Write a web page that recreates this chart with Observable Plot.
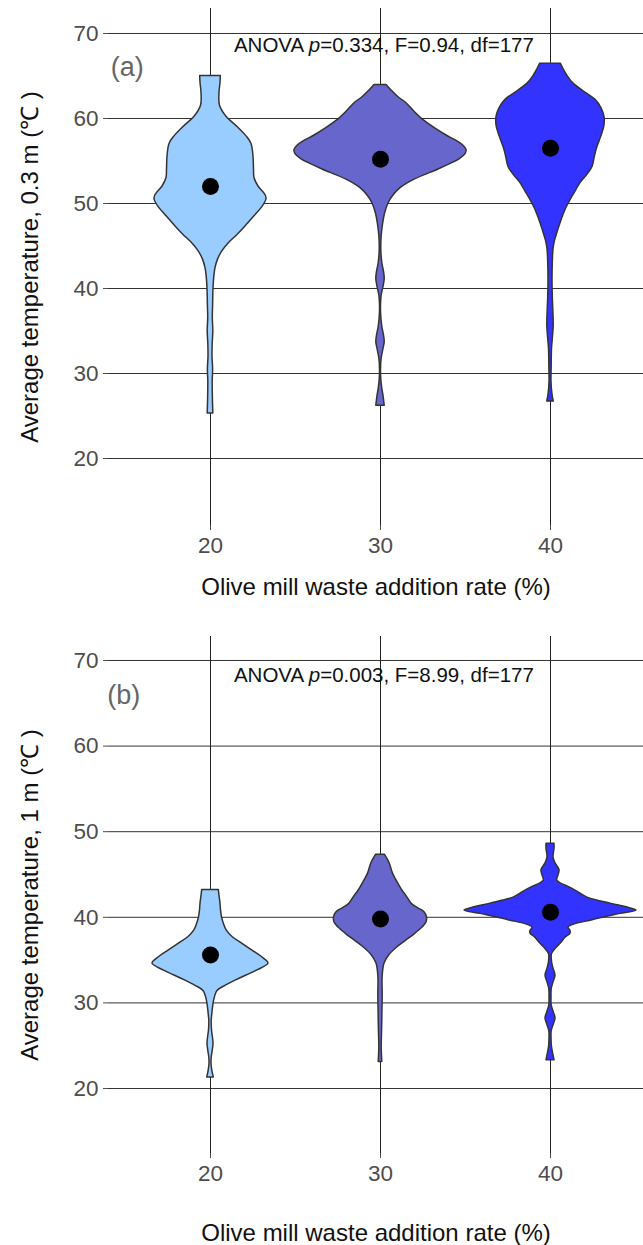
<!DOCTYPE html>
<html>
<head>
<meta charset="utf-8">
<script src="https://cdn.jsdelivr.net/npm/d3@7"></script>
<script src="https://cdn.jsdelivr.net/npm/@observablehq/plot@0.6"></script>
<style>
  html, body { margin: 0; padding: 0; background: #fff; }
  #chart div, #chart svg { display: block; }
</style>
</head>
<body>
<div id="chart"></div>
<script>
// ---------- data ----------
const rates = [20, 30, 40];
const fills = ["#99ccff", "#6666cc", "#3333ff"];
const yTicks = [20, 30, 40, 50, 60, 70];
const xTicks = [20, 30, 40];

const yTitleA = "Average temperature, 0.3 m (\u2103 )";
const yTitleB = "Average temperature, 1 m (\u2103 )";
const xTitle = "Olive mill waste addition rate (%)";
const anovaA = "ANOVA p=0.334, F=0.94, df=177";
const anovaB = "ANOVA p=0.003, F=8.99, df=177";
const labelA = "(a)";
const labelB = "(b)";

const meansA = [52.0, 55.2, 56.5];
const meansB = [35.6, 39.8, 40.6];

// violin profiles: [temperature, relative density (half width)]
const violinA20 = [[65.0,10.3],[64.2,10],[63.0,9],[61.5,9.5],[60.2,16],[59.0,27],[57.9,36],[57.0,41],[55.5,43],[54.0,43.5],[53.0,44],[52.0,48],[51.0,55],[50.5,56],[49.6,52],[48.5,44],[47.3,35],[46.3,27],[45.4,19],[44.4,12],[43.4,7.5],[42.4,5],[41.4,3.8],[40.0,3],[38.0,2.6],[36.5,2.3],[35.0,2.8],[33.5,2.2],[32.0,2],[30.5,2.6],[29.0,2.2],[27.0,2.4],[25.3,2.8]];
const violinA30 = [[63.95,6],[63.3,11],[62.5,18],[61.8,26],[60.8,34],[59.8,43],[58.8,55],[58.0,66],[57.3,77],[56.8,83],[56.3,86],[55.8,85],[55.2,79],[54.6,69],[54.0,58],[52.8,34],[51.8,20],[50.8,12],[50.0,8],[48.8,4.5],[47.5,2.5],[46.2,1.2],[44.5,0.8],[43.0,1.8],[41.9,3.6],[41.1,4.2],[40.2,3],[39.3,1.3],[38.4,0.6],[37.0,0.6],[35.5,1.8],[34.4,3.6],[33.7,4.2],[32.9,3],[31.8,1.2],[30.5,0.5],[29.3,0.8],[28.2,1.8],[27.2,3.2],[26.2,4.2]];
const violinA40 = [[66.45,10.3],[65.8,13],[65.0,17],[64.1,23],[63.2,33],[62.2,45],[61.2,51],[60.2,54],[59.2,54],[58.3,52],[57.3,49],[56.3,46],[55.3,44],[54.3,42],[53.4,37],[52.4,30],[51.4,25],[50.4,20],[49.5,16],[48.5,12.5],[47.5,9.5],[46.6,7],[45.6,4.5],[44.6,3],[43.0,2.3],[41.0,2],[39.0,2.3],[37.5,2.8],[35.6,3.2],[34.2,2.4],[32.9,1.5],[31.0,1.2],[29.0,1],[27.5,2],[26.7,3.3]];

const violinB20 = [[43.2,8.3],[42.5,9],[41.6,10],[40.8,10.5],[40.0,11.5],[39.2,13.5],[38.5,16],[37.7,22],[36.9,32],[36.1,42],[35.3,52],[34.6,58],[33.8,47],[33.2,36],[32.6,25],[32.0,15],[31.4,7],[30.7,4.5],[29.9,3],[28.9,2],[27.9,1.2],[26.8,1.5],[25.9,2.5],[25.2,3],[24.4,2.2],[23.6,1.2],[22.9,1],[22.1,1.8],[21.3,3.3]];
const violinB30 = [[47.3,4.5],[46.8,7],[46.2,9.5],[45.1,12.5],[44.1,17],[43.1,22],[42.3,27],[41.6,31],[41.1,37],[40.6,44],[40.0,46.5],[39.4,46],[38.8,42],[38.1,35],[37.3,26],[36.5,17],[35.6,9],[34.6,4],[33.6,2.5],[32.6,2],[31.0,2.2],[29.5,2],[28.0,1.8],[26.4,1.5],[24.8,1.2],[23.1,1.8]];
const violinB40 = [[48.6,4],[48.0,4],[47.0,3],[46.3,5],[45.5,9],[44.9,8],[44.3,6.7],[43.9,11],[43.5,19],[42.9,28],[42.3,37],[41.6,60],[41.2,75],[40.8,86],[40.4,70],[39.9,50],[39.6,40],[39.2,25],[38.8,18],[38.4,20],[38.1,20],[37.6,15],[36.9,10],[36.3,5],[35.7,1.5],[34.8,1.5],[34.0,3],[33.2,5],[32.4,3],[31.6,1.2],[30.7,1],[29.7,1.2],[29.0,3],[28.2,5],[27.4,3],[26.7,1.2],[26.0,1],[24.8,1.5],[24.0,2.8],[23.3,4]];

// ---------- drawing ----------
const FONT = "'Liberation Sans', Arial, Helvetica, sans-serif";
const K = 1 / 17; // density unit -> x units

function panel({height, marginTop, marginBottom, yDomain, violins, means, yTitle, xTitleDy, anova, anovaY, label, labelX, labelY}) {
  const marks = [
    Plot.gridY(yTicks, {stroke: "#333", strokeOpacity: 1, strokeWidth: 1}),
    Plot.gridX(xTicks, {stroke: "#222", strokeOpacity: 1, strokeWidth: 1}),
    Plot.axisY(yTicks, {tickSize: 5, tickPadding: 5, fontSize: 22.5, color: "#4d4d4d", label: null, tickFormat: d => d}),
    Plot.axisX(xTicks, {tickSize: 5, tickPadding: 7, fontSize: 22.5, color: "#4d4d4d", label: null, tickFormat: d => d})
  ];
  violins.forEach((v, i) => {
    const rate = rates[i];
    marks.push(Plot.areaX(v, {
      y: d => d[0],
      x1: d => rate - d[1] * K,
      x2: d => rate + d[1] * K,
      fill: fills[i], stroke: "#333", strokeWidth: 1.5, curve: "catmull-rom"
    }));
  });
  marks.push(Plot.dot(rates.map((r, i) => ({r, m: means[i]})), {x: "r", y: "m", r: 8.5, fill: "black", stroke: "none"}));
  marks.push(Plot.text([yTitle], {frameAnchor: "left", textAnchor: "middle", lineAnchor: "middle", dx: -78, rotate: -90, fontSize: 24, fill: "#111"}));
  marks.push(Plot.text([xTitle], {frameAnchor: "bottom", textAnchor: "middle", lineAnchor: "middle", dy: xTitleDy, fontSize: 24, fill: "#111"}));
  marks.push(Plot.text([anova], {x: () => 30.2, y: () => anovaY, fontSize: 20.5, fill: "#111"}));
  marks.push(Plot.text([label], {x: () => labelX, y: () => labelY, fontSize: 27, fill: "#666"}));
  return Plot.plot({
    width: 643, height, marginLeft: 108, marginRight: 0, marginTop, marginBottom,
    style: {fontFamily: FONT, background: "#fff", overflow: "visible"},
    x: {type: "linear", domain: [14, 45.47]},
    y: {domain: yDomain},
    marks
  });
}

const chart = document.getElementById("chart");
chart.append(panel({
  height: 615, marginTop: 8, marginBottom: 90, yDomain: [12.12, 72.94],
  violins: [violinA20, violinA30, violinA40], means: meansA,
  yTitle: yTitleA, xTitleDy: 62, anova: anovaA, anovaY: 68.6,
  label: labelA, labelX: 15.1, labelY: 66.0
}));
chart.append(panel({
  height: 630, marginTop: 21, marginBottom: 92, yDomain: [12.41, 72.80],
  violins: [violinB20, violinB30, violinB40], means: meansB,
  yTitle: yTitleB, xTitleDy: 80, anova: anovaB, anovaY: 68.25,
  label: labelB, labelX: 14.9, labelY: 65.9
}));

// italic "p" in the ANOVA annotations
d3.selectAll("#chart text").each(function() {
  const s = this.textContent;
  if (s.startsWith("ANOVA p")) {
    const el = d3.select(this);
    el.selectAll("*").remove();
    el.text(null);
    el.append("tspan").text("ANOVA ");
    el.append("tspan").attr("font-style", "italic").text("p");
    el.append("tspan").text(s.slice(7));
  }
});
</script>
</body>
</html>
